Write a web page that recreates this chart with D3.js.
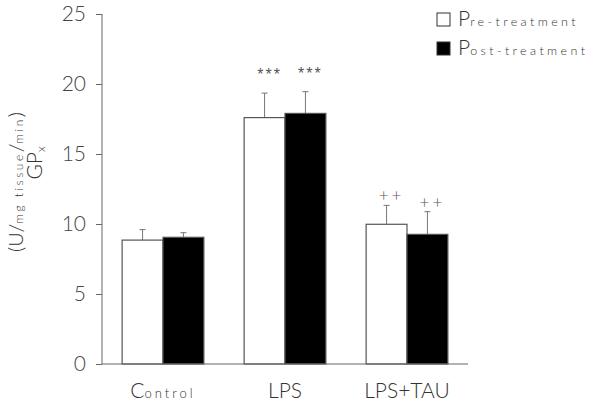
<!DOCTYPE html>
<html>
<head>
<meta charset="utf-8">
<script src="https://cdn.jsdelivr.net/npm/d3@7"></script>
<style>
  body { margin: 0; background: #fff; }
  svg text { font-family: Lato, "Liberation Sans", sans-serif; font-weight: 300; fill: #333; }
</style>
</head>
<body>
<script>
// data
const groups = ["Control", "LPS", "LPS+TAU"];
const series = ["Pre-treatment", "Post-treatment"];
const preMean = [8.85, 17.6, 9.98];
const preErr = [0.75, 1.75, 1.35];
const postMean = [9.05, 17.9, 9.26];
const postErr = [0.33, 1.55, 1.62];
const yTicks = [0, 5, 10, 15, 20, 25];
const marks = [["", ""], ["***", "***"], ["++", "++"]];

const width = 600, height = 405;
const svg = d3.select("body").append("svg")
  .attr("width", width)
  .attr("height", height);

const x = d3.scaleBand().domain(groups).range([102, 468]).paddingInner(0.33).paddingOuter(0.165);
const xs = d3.scaleBand().domain(series).range([0, x.bandwidth()]);
const y = d3.scaleLinear().domain([0, 25]).range([364, 14]);

const rows = groups.map((g, i) => [
  { g, s: series[0], v: preMean[i], e: preErr[i], m: marks[i][0] },
  { g, s: series[1], v: postMean[i], e: postErr[i], m: marks[i][1] }
]).flat();

const fill = d3.scaleOrdinal().domain(series).range(["#fff", "#000"]);

// error bars (upper only)
const eb = svg.append("g").attr("stroke", "#777").attr("stroke-width", 1);
rows.forEach(d => {
  const cx = x(d.g) + xs(d.s) + xs.bandwidth() / 2;
  eb.append("line").attr("x1", cx).attr("x2", cx).attr("y1", y(d.v)).attr("y2", y(d.v + d.e));
  eb.append("line").attr("x1", cx - 3).attr("x2", cx + 3).attr("y1", y(d.v + d.e)).attr("y2", y(d.v + d.e));
});

svg.append("g").selectAll("rect").data(rows).join("rect")
  .attr("x", d => x(d.g) + xs(d.s))
  .attr("y", d => y(d.v))
  .attr("width", xs.bandwidth())
  .attr("height", d => y(0) - y(d.v))
  .attr("fill", d => fill(d.s))
  .attr("stroke", "#555")
  .attr("stroke-width", 1.2);

// significance marks
const star = d => d.m === "***";
svg.append("g").selectAll("text").data(rows.filter(d => d.m)).join("text")
  .attr("x", d => x(d.g) + xs(d.s) + xs.bandwidth() / 2 + 5)
  .attr("y", d => y(d.v + d.e) - (star(d) ? 13 : 4))
  .attr("text-anchor", "middle")
  .attr("font-size", d => star(d) ? 16 : 17)
  .attr("letter-spacing", d => star(d) ? 2 : 3)
  .style("font-family", d => star(d) ? "'Liberation Sans', sans-serif" : null)
  .style("font-weight", d => star(d) ? 400 : 300)
  .style("fill", "#555")
  .text(d => d.m);

// y axis
const yAxis = svg.append("g").attr("transform", "translate(102,0)")
  .call(d3.axisLeft(y).tickValues(yTicks).tickSize(6).tickPadding(10));
yAxis.select(".domain").attr("stroke", "#666").attr("d", "M0,14V364");
yAxis.selectAll(".tick line").attr("stroke", "#666");
yAxis.selectAll(".tick text").attr("font-size", 21).attr("font-family", null).style("fill", "#444");

// x axis line
svg.append("line").attr("x1", 102).attr("x2", 468).attr("y1", 364).attr("y2", 364)
  .attr("stroke", "#666").attr("stroke-width", 1.2);

// category labels
const cat = svg.append("g").selectAll("text").data(groups).join("text")
  .attr("x", d => x(d) + x.bandwidth() / 2)
  .attr("y", 398)
  .attr("text-anchor", "middle")
  .attr("font-size", 21);
cat.each(function(d) {
  const t = d3.select(this);
  if (d === "Control") {
    t.append("tspan").text("C");
    t.append("tspan").attr("font-size", 13).attr("letter-spacing", 3).text("ontrol");
  } else {
    t.text(d);
  }
});

// y label
const yl = svg.append("g").attr("transform", "translate(42,163) rotate(-90)");
const gp = yl.append("text").attr("text-anchor", "middle").attr("font-size", 21);
gp.append("tspan").text("GP");
gp.append("tspan").attr("font-size", 12).attr("dy", 3).text("x");
const unit = svg.append("g").attr("transform", "translate(23,182) rotate(-90)")
  .append("text").attr("text-anchor", "middle").attr("font-size", 20);
unit.append("tspan").text("(U/");
unit.append("tspan").attr("font-size", 12).attr("letter-spacing", 2.5).text("mg tissue");
unit.append("tspan").text("/");
unit.append("tspan").attr("font-size", 12).attr("letter-spacing", 2.5).text("min");
unit.append("tspan").text(")");

// legend
const leg = svg.append("g").selectAll("g").data(series).join("g")
  .attr("transform", (d, i) => `translate(437,${13 + i * 29})`);
leg.append("rect").attr("width", 13).attr("height", 13)
  .attr("fill", d => fill(d)).attr("stroke", "#333").attr("stroke-width", 1);
const lt = leg.append("text").attr("x", 21).attr("y", 13).attr("font-size", 21);
lt.append("tspan").text(d => d[0]);
lt.append("tspan").attr("font-size", 12.5).attr("letter-spacing", 3.4).text(d => d.slice(1));
</script>
</body>
</html>
